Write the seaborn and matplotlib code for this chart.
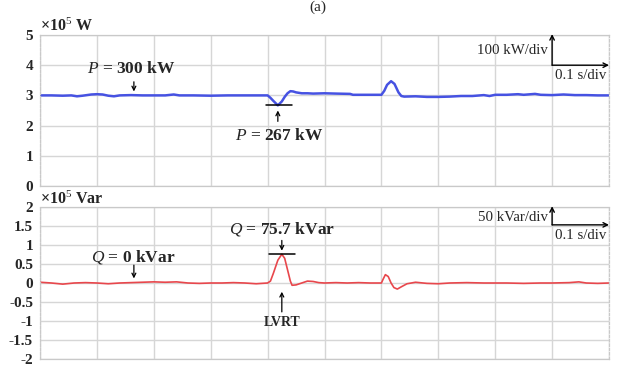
import matplotlib
matplotlib.use("Agg")
import matplotlib.pyplot as plt
import seaborn as sns
import pandas as pd

# Active power trace (x10^5 W) against time (s)
p_time = [0.00, 0.02, 0.04, 0.055, 0.065, 0.075, 0.09, 0.10, 0.11, 0.12, 0.13, 0.14,
          0.16, 0.18, 0.20, 0.22, 0.235, 0.245, 0.27, 0.30, 0.33, 0.36, 0.39, 0.40,
          0.405, 0.41, 0.418, 0.425, 0.43, 0.435, 0.44, 0.445, 0.45, 0.46, 0.47, 0.48,
          0.50, 0.52, 0.545, 0.55, 0.58, 0.60, 0.605, 0.61, 0.617, 0.623, 0.63, 0.635,
          0.64, 0.66, 0.68, 0.70, 0.72, 0.74, 0.76, 0.78, 0.79, 0.80, 0.82, 0.84, 0.85,
          0.87, 0.88, 0.90, 0.92, 0.94, 0.96, 0.98, 1.00]
p_value = [3.00, 3.00, 2.99, 3.00, 2.97, 2.99, 3.03, 3.04, 3.03, 2.99, 2.97, 3.00,
           3.01, 3.00, 3.00, 3.00, 3.03, 3.00, 3.00, 2.99, 3.00, 3.00, 3.00, 3.00,
           2.92, 2.82, 2.67, 2.80, 2.95, 3.07, 3.14, 3.13, 3.10, 3.07, 3.07, 3.06,
           3.07, 3.06, 3.05, 3.02, 3.02, 3.02, 3.15, 3.35, 3.47, 3.38, 3.10, 2.98,
           2.96, 2.97, 2.95, 2.95, 2.96, 2.98, 2.98, 3.01, 2.98, 3.02, 3.02, 3.04, 3.02,
           3.05, 3.02, 3.01, 3.03, 3.01, 3.01, 3.00, 3.00]

# Reactive power trace (x10^5 Var) against time (s)
q_time = [0.00, 0.02, 0.04, 0.06, 0.08, 0.10, 0.12, 0.14, 0.16, 0.18, 0.20, 0.22,
          0.24, 0.26, 0.28, 0.30, 0.32, 0.34, 0.36, 0.38, 0.39, 0.40, 0.405, 0.41,
          0.418, 0.425, 0.43, 0.435, 0.44, 0.443, 0.45, 0.46, 0.47, 0.48, 0.49, 0.50,
          0.52, 0.54, 0.56, 0.58, 0.60, 0.603, 0.607, 0.612, 0.617, 0.622, 0.628,
          0.635, 0.645, 0.66, 0.68, 0.70, 0.72, 0.75, 0.78, 0.80, 0.82, 0.85, 0.88,
          0.90, 0.93, 0.947, 0.96, 0.98, 1.00]
q_value = [0.02, 0.00, -0.03, 0.00, 0.01, 0.00, -0.02, 0.00, 0.01, 0.02, 0.03, 0.02,
           0.03, 0.00, -0.01, 0.00, 0.00, 0.01, 0.00, -0.02, -0.01, 0.00, 0.05, 0.25,
           0.60, 0.757, 0.65, 0.35, 0.05, -0.06, -0.05, 0.00, 0.05, 0.04, 0.01, 0.00,
           0.01, 0.00, 0.01, 0.00, 0.00, 0.10, 0.22, 0.17, 0.00, -0.12, -0.16,
           -0.10, -0.02, 0.02, -0.01, -0.02, 0.00, 0.01, 0.00, 0.00, 0.00, -0.01, 0.00,
           0.00, 0.01, 0.03, 0.00, -0.01, 0.00]

p_ticks = [0, 1, 2, 3, 4, 5]
p_tick_labels = ["0", "1", "2", "3", "4", "5"]
q_ticks = [-2, -1.5, -1, -0.5, 0, 0.5, 1, 1.5, 2]
q_tick_labels = ["-2", "-1.5", "-1", "-0.5", "0", "0.5", "1", "1.5", "2"]
time_grid = [0.0, 0.1, 0.2, 0.3, 0.4, 0.5, 0.6, 0.7, 0.8, 0.9, 1.0]

sns.set_style("white")
plt.rcParams["font.family"] = ["Liberation Serif", "DejaVu Serif"]
plt.rcParams["mathtext.fontset"] = "custom"
plt.rcParams["mathtext.it"] = "Liberation Serif:italic"
plt.rcParams["mathtext.rm"] = "Liberation Serif"
plt.rcParams["mathtext.bf"] = "Liberation Serif:bold"

BLUE = "#4652e2"
RED = "#e8474c"
GRID = "#d6d6d6"

fig = plt.figure(figsize=(6.36, 3.67), dpi=100)
ax_p = fig.add_axes([40 / 636, 1 - 186 / 367, 569 / 636, 151 / 367])
ax_q = fig.add_axes([40 / 636, 1 - 359 / 367, 569 / 636, 152 / 367])

df_p = pd.DataFrame({"t": p_time, "v": p_value})
df_q = pd.DataFrame({"t": q_time, "v": q_value})
sns.lineplot(data=df_p, x="t", y="v", ax=ax_p, color=BLUE, lw=1.8)
sns.lineplot(data=df_q, x="t", y="v", ax=ax_q, color=RED, lw=1.2)


def style_axes(ax, ticks, labels, lo, hi):
    ax.set_xlim(0, 1)
    ax.set_ylim(lo, hi)
    ax.set_xticks(time_grid)
    ax.set_xticklabels([])
    ax.set_yticks(ticks)
    ax.set_yticklabels(labels, fontsize=11, fontweight="bold")
    ax.tick_params(axis="both", length=0, pad=5)
    ax.set_xlabel("")
    ax.set_ylabel("")
    ax.grid(True, color=GRID, lw=1.0)
    ax.set_axisbelow(True)
    for s in ax.spines.values():
        s.set_color("#c9c9c9")
        s.set_linewidth(0.9)
    ax.spines["left"].set_linestyle((0, (2, 1.5)))
    ax.spines["right"].set_linestyle((0, (2, 1.5)))


style_axes(ax_p, p_ticks, p_tick_labels, 0, 5)
style_axes(ax_q, q_ticks, q_tick_labels, -2, 2)

arrow = dict(arrowstyle="->", color="black", lw=0.9, mutation_scale=7,
             shrinkA=0, shrinkB=0)
label_kw = dict(fontsize=12.5, fontweight="bold", ha="center", va="center")

# Active power annotations
ax_p.text(0.16, 3.87, r"$P$ = 300 kW", **label_kw)
ax_p.annotate("", xy=(0.165, 3.13), xytext=(0.165, 3.45), arrowprops=arrow)
ax_p.plot([0.397, 0.443], [2.67, 2.67], color="black", lw=1.1)
ax_p.annotate("", xy=(0.418, 2.50), xytext=(0.418, 2.14), arrowprops=arrow)
ax_p.text(0.42, 1.66, r"$P$ = 267 kW", **label_kw)

# Reactive power annotations
ax_q.text(0.164, 0.68, r"$Q$ = 0 kVar", **label_kw)
ax_q.annotate("", xy=(0.165, 0.12), xytext=(0.165, 0.47), arrowprops=arrow)
ax_q.text(0.425, 1.42, r"$Q$ = 75.7 kVar", **label_kw)
ax_q.annotate("", xy=(0.425, 0.85), xytext=(0.425, 1.12), arrowprops=arrow)
ax_q.plot([0.403, 0.448], [0.757, 0.757], color="black", lw=1.1)
ax_q.annotate("", xy=(0.425, -0.23), xytext=(0.425, -0.76), arrowprops=arrow)
ax_q.text(0.425, -1.03, "LVRT", fontsize=10, fontweight="bold",
          ha="center", va="center")

# Scale indicators
div_arrow = dict(arrowstyle="->", color="black", lw=1.0, mutation_scale=8,
                 shrinkA=0, shrinkB=0)
ax_p.annotate("", xy=(0.9, 5.03), xytext=(0.9, 4.0), arrowprops=div_arrow,
              annotation_clip=False)
ax_p.annotate("", xy=(1.0, 4.0), xytext=(0.9, 4.0), arrowprops=div_arrow,
              annotation_clip=False)
ax_p.text(0.893, 4.5, "100 kW/div", fontsize=10.7, ha="right", va="center")
ax_p.text(0.95, 3.66, "0.1 s/div", fontsize=10.7, ha="center", va="center")

ax_q.annotate("", xy=(0.9, 2.02), xytext=(0.9, 1.53), arrowprops=div_arrow,
              annotation_clip=False)
ax_q.annotate("", xy=(1.0, 1.53), xytext=(0.9, 1.53), arrowprops=div_arrow,
              annotation_clip=False)
ax_q.text(0.893, 1.72, "50 kVar/div", fontsize=10.7, ha="right", va="center")
ax_q.text(0.95, 1.26, "0.1 s/div", fontsize=10.7, ha="center", va="center")

# Unit labels above each panel
fig.text(40 / 636, 1 - 26 / 367, r"×10$^{5}$ W", fontsize=11.5,
         fontweight="bold", ha="left", va="center")
fig.text(40 / 636, 1 - 199 / 367, r"×10$^{5}$ Var", fontsize=11.5,
         fontweight="bold", ha="left", va="center")

# Panel tag
fig.text(318 / 636, 1 - 11 / 367, "(a)", fontsize=11, ha="center", va="baseline")

fig.savefig("out.png", dpi=100)
